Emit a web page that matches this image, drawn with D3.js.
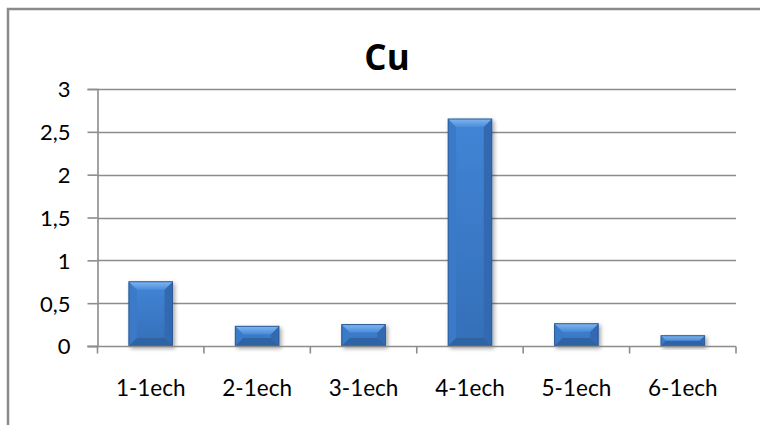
<!DOCTYPE html>
<html>
<head>
<meta charset="utf-8">
<script src="https://cdn.jsdelivr.net/npm/d3@7"></script>
<style>
  html, body { margin: 0; padding: 0; background: #fff; }
  svg { display: block; }
</style>
</head>
<body>
<svg id="chart" width="760" height="425"></svg>
<script>
const title = "Cu";
const categories = ["1-1ech", "2-1ech", "3-1ech", "4-1ech", "5-1ech", "6-1ech"];
const values = [0.75, 0.23, 0.25, 2.65, 0.26, 0.12];
const yTicks = [0, 0.5, 1, 1.5, 2, 2.5, 3];
const yTickLabels = ["0", "0,5", "1", "1,5", "2", "2,5", "3"];

const W = 760, H = 425;
const margin = { left: 97.5, right: 24, top: 89, bottom: 79 };
const svg = d3.select("#chart");
const FONT = "Lato, 'Open Sans', sans-serif";

// outer frame
svg.append("path")
  .attr("d", `M8,${H + 5} L8,9 L${W + 5},9`)
  .attr("fill", "none").attr("stroke", "#8a8a8a").attr("stroke-width", 2.5);

const x = d3.scaleBand().domain(categories)
  .range([margin.left, W - margin.right]).paddingInner(0.59).paddingOuter(0.295);
const xOuter = d3.scaleBand().domain(categories)
  .range([margin.left, W - margin.right]).padding(0);
const y = d3.scaleLinear().domain([0, 3]).range([H - margin.bottom, margin.top]);

// gridlines
svg.append("g").selectAll("line").data(yTicks.filter(d => d > 0)).join("line")
  .attr("x1", margin.left).attr("x2", W - margin.right)
  .attr("y1", d => Math.round(y(d)) + 0.5).attr("y2", d => Math.round(y(d)) + 0.5)
  .attr("stroke", "#8c8c8c").attr("stroke-width", 1.6);

// y axis
const yAxis = svg.append("g").attr("transform", `translate(${margin.left},0)`)
  .call(d3.axisLeft(y).tickValues(yTicks).tickSize(10).tickPadding(17)
    .tickFormat((d, i) => yTickLabels[i]));
yAxis.select(".domain").attr("stroke", "#8c8c8c").attr("stroke-width", 1.6);
yAxis.selectAll(".tick line").attr("stroke", "#8c8c8c").attr("stroke-width", 1.6);
yAxis.selectAll(".tick text").attr("font-family", FONT).attr("font-size", 22)
  .attr("fill", "#000").attr("dy", "0.36em");

// defs: gradients + shadow
const defs = svg.append("defs");
const gMain = defs.append("linearGradient").attr("id", "gMain").attr("x1", 0).attr("x2", 0).attr("y1", 0).attr("y2", 1);
gMain.append("stop").attr("offset", "0%").attr("stop-color", "#4185d6");
gMain.append("stop").attr("offset", "100%").attr("stop-color", "#356fb9");
const gTop = defs.append("linearGradient").attr("id", "gTop").attr("x1", 0).attr("x2", 0).attr("y1", 0).attr("y2", 1);
gTop.append("stop").attr("offset", "0%").attr("stop-color", "#7fb6f0");
gTop.append("stop").attr("offset", "100%").attr("stop-color", "#4a8bda");
const f = defs.append("filter").attr("id", "shadow").attr("x", "-20%").attr("y", "-20%").attr("width", "150%").attr("height", "150%");
f.append("feGaussianBlur").attr("in", "SourceAlpha").attr("stdDeviation", 2).attr("result", "b");
f.append("feOffset").attr("in", "b").attr("dx", 1.5).attr("dy", 1.5).attr("result", "o");
f.append("feComponentTransfer").attr("in", "o").attr("result", "o2")
  .append("feFuncA").attr("type", "linear").attr("slope", 0.35);
const fm = f.append("feMerge");
fm.append("feMergeNode").attr("in", "o2");
fm.append("feMergeNode").attr("in", "SourceGraphic");

// bars
const bars = svg.append("g").selectAll("g").data(values).join("g")
  .attr("filter", "url(#shadow)");
bars.each(function (v, i) {
  const g = d3.select(this);
  const bx = x(categories[i]), bw = x.bandwidth();
  const by = y(v), bh = y(0) - y(v);
  const d = Math.min(8, bh / 2);
  g.append("rect").attr("x", bx).attr("y", by).attr("width", bw).attr("height", bh)
    .attr("fill", "url(#gMain)");
  // left & right bevels
  g.append("path").attr("d", `M${bx},${by} L${bx + d},${by + d} L${bx + d},${by + bh - d} L${bx},${by + bh} Z`)
    .attr("fill", "#3b7ac8");
  g.append("path").attr("d", `M${bx + bw},${by} L${bx + bw - d},${by + d} L${bx + bw - d},${by + bh - d} L${bx + bw},${by + bh} Z`)
    .attr("fill", "#3169b0");
  // bottom bevel
  g.append("path").attr("d", `M${bx},${by + bh} L${bx + d},${by + bh - d} L${bx + bw - d},${by + bh - d} L${bx + bw},${by + bh} Z`)
    .attr("fill", "#2f63a4");
  // top bevel
  g.append("path").attr("d", `M${bx},${by} L${bx + bw},${by} L${bx + bw - d},${by + d} L${bx + d},${by + d} Z`)
    .attr("fill", "url(#gTop)");
  g.append("rect").attr("x", bx).attr("y", by).attr("width", bw).attr("height", bh)
    .attr("fill", "none").attr("stroke", "#2b5a96").attr("stroke-width", 1);
});

// x axis
const xAxisG = svg.append("g").attr("transform", `translate(0,${Math.round(y(0)) + 0.5})`);
xAxisG.append("line").attr("x1", margin.left - 10).attr("x2", W - margin.right)
  .attr("stroke", "#8c8c8c").attr("stroke-width", 1.6);
const tickPos = categories.map(c => xOuter(c)).concat([W - margin.right]);
xAxisG.selectAll("line.t").data(tickPos).join("line").attr("class", "t")
  .attr("x1", d => d).attr("x2", d => d).attr("y1", 0).attr("y2", 7)
  .attr("stroke", "#8c8c8c").attr("stroke-width", 1.6);
xAxisG.selectAll("text").data(categories).join("text")
  .attr("x", c => xOuter(c) + xOuter.bandwidth() / 2).attr("y", 49)
  .attr("text-anchor", "middle").attr("font-family", FONT).attr("font-size", 22.5)
  .attr("fill", "#000").text(c => c);

// title
svg.append("text").attr("x", 387).attr("y", 70).attr("text-anchor", "middle")
  .attr("font-family", "'Open Sans', sans-serif").attr("font-weight", "bold")
  .attr("font-size", 35).attr("fill", "#000").text(title);
</script>
</body>
</html>
